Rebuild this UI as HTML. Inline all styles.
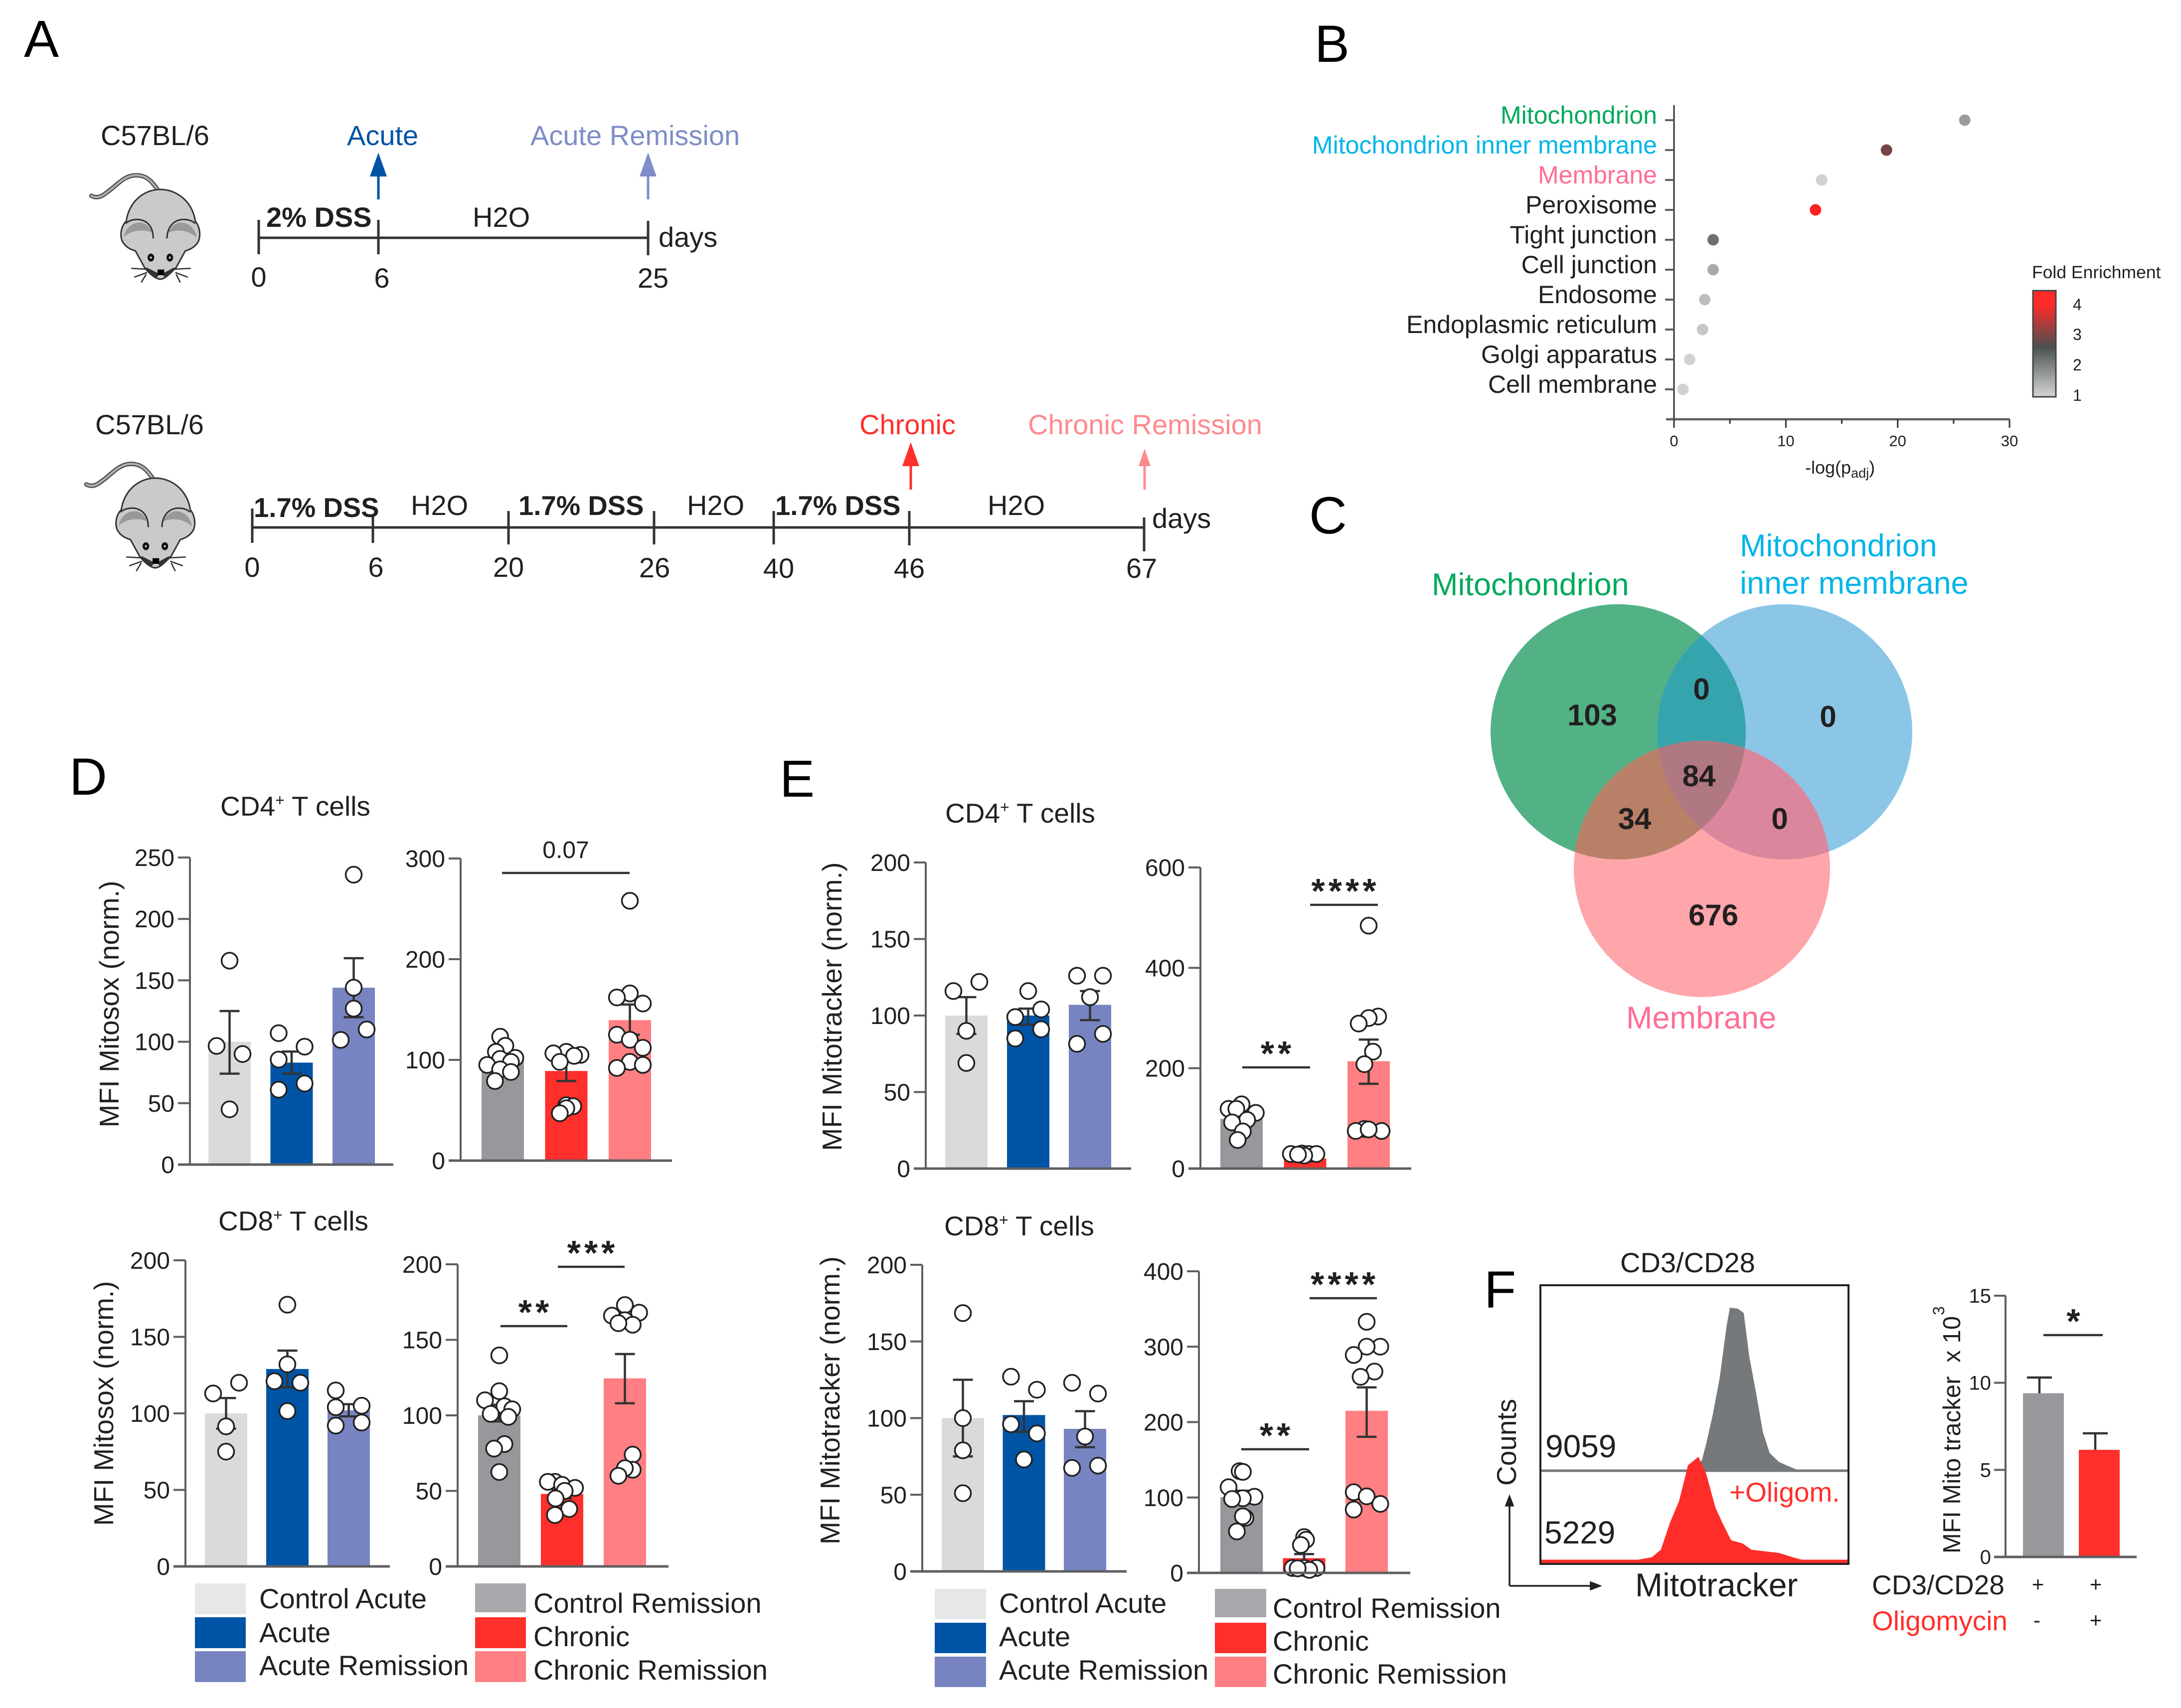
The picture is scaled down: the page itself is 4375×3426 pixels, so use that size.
<!DOCTYPE html>
<html lang="en">
<head>
<meta charset="utf-8">
<title>Mitochondrial phenotype figure panels A to F</title>
<style>
html,body{margin:0;padding:0;background:#fff;}
svg{display:block;}
text{font-family:"Liberation Sans",Arial,sans-serif;fill:#231f20;}
.lbl{font-size:56px;}
.bold{font-size:56px;font-weight:bold;}
.bold17{font-size:54.5px;font-weight:bold;}
.panel{font-size:105px;fill:#000;}
.leg{font-size:56px;}
</style>
</head>
<body>
<svg id="figure" xmlns="http://www.w3.org/2000/svg" width="4375" height="3426" viewBox="0 0 4375 3426">
<rect width="4375" height="3426" fill="#fff"/>
<defs>
  <linearGradient id="foldGrad" x1="0" y1="0" x2="0" y2="1">
    <stop offset="0.135" stop-color="#ff2a2a"/>
    <stop offset="0.53" stop-color="#4a5050"/>
    <stop offset="0.986" stop-color="#d0d1d3"/>
  </linearGradient>
  <clipPath id="clipGreen"><circle cx="3246" cy="1468" r="256"/></clipPath>
  <clipPath id="clipBlue"><circle cx="3580" cy="1468" r="256"/></clipPath>
  <clipPath id="clipPink"><circle cx="3414" cy="1743" r="257"/></clipPath>
  <g id="mouseArt">
    <path d="M495 175C460 130 430 90 360 95C290 100 250 160 190 200C160 225 130 235 100 218" fill="none" stroke="#333" stroke-width="26" stroke-linecap="round"/>
    <path d="M495 175C460 130 430 90 360 95C290 100 250 160 190 200C160 225 130 235 100 218" fill="none" stroke="#aaa" stroke-width="15" stroke-linecap="round"/>
    <path d="M515 180C620 180 710 260 725 370C750 400 760 450 745 490C730 520 700 540 665 550L610 650C570 690 540 720 515 720C490 720 450 690 420 650L365 550C330 540 300 520 285 490C270 450 280 400 310 370C325 260 410 180 515 180Z" fill="#cacaca" stroke="#333" stroke-width="9"/>
    <path d="M295 465C305 410 350 375 400 380C430 385 455 410 468 440C420 420 350 420 295 465Z" fill="#999"/>
    <path d="M735 470C725 410 680 375 630 380C600 385 575 410 562 440C610 420 680 420 735 470Z" fill="#999"/>
    <path d="M305 385C340 355 400 350 440 385C465 410 472 440 472 475" fill="none" stroke="#333" stroke-width="9"/>
    <path d="M555 475C555 440 565 410 590 385C630 350 690 355 725 385" fill="none" stroke="#333" stroke-width="9"/>
    <ellipse cx="458" cy="590" rx="20" ry="24" fill="#111"/>
    <ellipse cx="572" cy="590" rx="20" ry="24" fill="#111"/>
    <circle cx="458" cy="590" r="6" fill="#ddd"/>
    <circle cx="572" cy="590" r="6" fill="#ddd"/>
    <path d="M430 655L500 690L490 705ZM600 655L535 690L545 705Z" fill="#333" stroke="#333" stroke-width="12"/>
    <rect x="498" y="662" width="40" height="34" fill="#000"/>
    <path d="M430 660L340 655M435 680L358 708M430 690L400 740M600 660L698 655M605 680L680 708M610 690L635 740" fill="none" stroke="#333" stroke-width="8"/>
  </g>
</defs>

<!-- PANEL A -->
<g>
  <text class="panel" x="48" y="114">A</text>
  <text class="lbl" x="202" y="291">C57BL/6</text>
  <use href="#mouseArt" transform="translate(150,320) scale(0.3333)"/>
  <text class="lbl" x="696" y="291" style="fill:#0054a6">Acute</text>
  <text class="lbl" x="1064" y="291" style="fill:#7f8dc8">Acute Remission</text>
  <path d="M759 400V345" stroke="#0054a6" stroke-width="5" fill="none"/>
  <path d="M759 306L776 354H742Z" fill="#0054a6"/>
  <path d="M1300 400V345" stroke="#7f8dc8" stroke-width="5" fill="none"/>
  <path d="M1300 306L1317 354H1283Z" fill="#7f8dc8"/>
  <path d="M519 477H1300M519 441V510M759 441V510M1300 443V512" stroke="#333" stroke-width="5" fill="none"/>
  <text class="bold" x="534" y="455">2% DSS</text>
  <text class="lbl" x="948" y="455">H2O</text>
  <text class="lbl" x="1321" y="495">days</text>
  <text class="lbl" x="519" y="575" text-anchor="middle">0</text>
  <text class="lbl" x="766" y="577" text-anchor="middle">6</text>
  <text class="lbl" x="1310" y="577" text-anchor="middle">25</text>

  <text class="lbl" x="191" y="871">C57BL/6</text>
  <use href="#mouseArt" transform="translate(140,899) scale(0.3333)"/>
  <text class="lbl" x="1724" y="871" style="fill:#ff2f2b">Chronic</text>
  <text class="lbl" x="2062" y="871" style="fill:#ff8a8e">Chronic Remission</text>
  <path d="M1827 982V925" stroke="#ff2f2b" stroke-width="5" fill="none"/>
  <path d="M1827 887L1844 935H1810Z" fill="#ff2f2b"/>
  <path d="M2296 982V925" stroke="#ff8a8e" stroke-width="5" fill="none"/>
  <path d="M2296 900L2308 935H2284Z" fill="#ff8a8e"/>
  <path d="M506 1058H2295M506 1020V1089M748 1033V1089M1020 1025V1092M1312 1025V1092M1552 1025V1092M1824 1025V1094M2295 1038V1106" stroke="#333" stroke-width="5" fill="none"/>
  <text class="bold17" x="509" y="1037">1.7% DSS</text>
  <text class="lbl" x="824" y="1033">H2O</text>
  <text class="bold17" x="1040" y="1033">1.7% DSS</text>
  <text class="lbl" x="1378" y="1033">H2O</text>
  <text class="bold17" x="1555" y="1033">1.7% DSS</text>
  <text class="lbl" x="1981" y="1033">H2O</text>
  <text class="lbl" x="2311" y="1059">days</text>
  <text class="lbl" x="506" y="1157" text-anchor="middle">0</text>
  <text class="lbl" x="754" y="1157" text-anchor="middle">6</text>
  <text class="lbl" x="1020" y="1157" text-anchor="middle">20</text>
  <text class="lbl" x="1313" y="1158" text-anchor="middle">26</text>
  <text class="lbl" x="1562" y="1159" text-anchor="middle">40</text>
  <text class="lbl" x="1824" y="1159" text-anchor="middle">46</text>
  <text class="lbl" x="2290" y="1159" text-anchor="middle">67</text>
</g>

<text class="panel" x="2637" y="124">B</text>
<text class="panel" x="2626" y="1070">C</text>
<text class="panel" x="139" y="1594">D</text>
<text class="panel" x="1564" y="1598">E</text>
<text class="panel" x="2977" y="2623">F</text>

<!-- PANEL C -->
<g>
  <circle cx="3246" cy="1468" r="256" fill="#52b286"/>
  <circle cx="3580" cy="1468" r="256" fill="#8bc6e7"/>
  <circle cx="3580" cy="1468" r="256" fill="#36a4ac" clip-path="url(#clipGreen)"/>
  <circle cx="3414" cy="1743" r="257" fill="#ffa6ab"/>
  <circle cx="3414" cy="1743" r="257" fill="#b98068" clip-path="url(#clipGreen)"/>
  <circle cx="3414" cy="1743" r="257" fill="#da879d" clip-path="url(#clipBlue)"/>
  <g clip-path="url(#clipGreen)"><circle cx="3414" cy="1743" r="257" fill="#b07883" clip-path="url(#clipBlue)"/></g>
  <text x="3194" y="1455" text-anchor="middle" font-size="60" font-weight="bold">103</text>
  <text x="3413" y="1403" text-anchor="middle" font-size="60" font-weight="bold">0</text>
  <text x="3667" y="1458" text-anchor="middle" font-size="60" font-weight="bold">0</text>
  <text x="3408" y="1577" text-anchor="middle" font-size="60" font-weight="bold">84</text>
  <text x="3279" y="1663" text-anchor="middle" font-size="60" font-weight="bold">34</text>
  <text x="3570" y="1663" text-anchor="middle" font-size="60" font-weight="bold">0</text>
  <text x="3437" y="1856" text-anchor="middle" font-size="60" font-weight="bold">676</text>
  <text x="2872" y="1194" font-size="63" style="fill:#00a95c">Mitochondrion</text>
  <text x="3490" y="1116" font-size="63" style="fill:#00b5e8">Mitochondrion</text>
  <text x="3490" y="1191" font-size="63" style="fill:#00b5e8">inner membrane</text>
  <text x="3262" y="2063" font-size="63" style="fill:#ff6e96">Membrane</text>
</g>

<!-- Titles and legends -->
<text x="442" y="1636" font-size="55">CD4<tspan font-size="32" dy="-20">+</tspan><tspan dy="20"> T cells</tspan></text>
<text x="438" y="2468" font-size="55">CD8<tspan font-size="32" dy="-20">+</tspan><tspan dy="20"> T cells</tspan></text>
<text x="1896" y="1650" font-size="55">CD4<tspan font-size="32" dy="-20">+</tspan><tspan dy="20"> T cells</tspan></text>
<text x="1894" y="2478" font-size="55">CD8<tspan font-size="32" dy="-20">+</tspan><tspan dy="20"> T cells</tspan></text>
<text transform="translate(238,2014) rotate(-90)" text-anchor="middle" font-size="55" textLength="495">MFI Mitosox (norm.)</text>
<text transform="translate(227,2815) rotate(-90)" text-anchor="middle" font-size="55" textLength="491">MFI Mitosox (norm.)</text>
<text transform="translate(1688,2019) rotate(-90)" text-anchor="middle" font-size="55" textLength="579">MFI Mitotracker (norm.)</text>
<text transform="translate(1684,2809) rotate(-90)" text-anchor="middle" font-size="55" textLength="578">MFI Mitotracker (norm.)</text>

<g>
  <rect x="391" y="3176" width="102" height="62" fill="#e6e7e8"/>
  <rect x="391" y="3244" width="102" height="62" fill="#0054a6"/>
  <rect x="391" y="3312" width="102" height="62" fill="#7784c1"/>
  <rect x="953" y="3176" width="102" height="58" fill="#a7a9ac"/>
  <rect x="953" y="3244" width="102" height="62" fill="#ff2f2b"/>
  <rect x="953" y="3312" width="102" height="62" fill="#ff7f82"/>
  <text class="leg" x="520" y="3226">Control Acute</text>
  <text class="leg" x="520" y="3294">Acute</text>
  <text class="leg" x="520" y="3360">Acute Remission</text>
  <text class="leg" x="1070" y="3235">Control Remission</text>
  <text class="leg" x="1070" y="3302">Chronic</text>
  <text class="leg" x="1070" y="3369">Chronic Remission</text>
</g>
<g>
  <rect x="1875" y="3187" width="103" height="61" fill="#e6e7e8"/>
  <rect x="1875" y="3255" width="103" height="61" fill="#0054a6"/>
  <rect x="1875" y="3323" width="103" height="61" fill="#7784c1"/>
  <rect x="2437" y="3187" width="103" height="57" fill="#a7a9ac"/>
  <rect x="2437" y="3255" width="103" height="61" fill="#ff2f2b"/>
  <rect x="2437" y="3323" width="103" height="61" fill="#ff7f82"/>
  <text class="leg" x="2004" y="3235">Control Acute</text>
  <text class="leg" x="2004" y="3302">Acute</text>
  <text class="leg" x="2004" y="3369">Acute Remission</text>
  <text class="leg" x="2553" y="3245">Control Remission</text>
  <text class="leg" x="2553" y="3311">Chronic</text>
  <text class="leg" x="2553" y="3377">Chronic Remission</text>
</g>

<!-- Panel B static -->
<g>
  <text x="4076" y="558" font-size="35.5">Fold Enrichment</text>
  <rect x="4078" y="583" width="46" height="213" fill="url(#foldGrad)" stroke="#444" stroke-width="3"/>
  <text x="4158" y="622" font-size="32">4</text>
  <text x="4158" y="682" font-size="32">3</text>
  <text x="4158" y="743" font-size="32">2</text>
  <text x="4158" y="804" font-size="32">1</text>
</g>
<text x="3621" y="950" font-size="36">-log(p<tspan font-size="27" dy="8">adj</tspan><tspan dy="-8">)</tspan></text>

<!-- Panel F static -->
<g>
  <text x="3250" y="2552" font-size="56">CD3/CD28</text>
  <text x="3100" y="2923" font-size="64">9059</text>
  <text x="3098" y="3096" font-size="64">5229</text>
  <text x="3469" y="3012" font-size="55" style="fill:#ff2f2b">+Oligom.</text>
  <text transform="translate(3041,2893) rotate(-90)" text-anchor="middle" font-size="55">Counts</text>
  <path d="M3028 3181V3010M3028 3002l-7 18h14zM3028 3181H3200M3209 3181l-18 -7v14z" stroke="#222" stroke-width="3.5" fill="#222"/>
  <text x="3280" y="3202" font-size="66">Mitotracker</text>
</g>
<g>
  <text x="3755" y="3198" font-size="55">CD3/CD28</text>
  <text x="3755" y="3270" font-size="55" style="fill:#ff2f2b">Oligomycin</text>
  <text x="4088" y="3192" font-size="42" text-anchor="middle">+</text>
  <text x="4204" y="3192" font-size="42" text-anchor="middle">+</text>
  <text x="4086" y="3264" font-size="42" text-anchor="middle">-</text>
  <text x="4204" y="3264" font-size="42" text-anchor="middle">+</text>
</g>
<text transform="translate(3932,2878) rotate(-90)" text-anchor="middle" font-size="49" textLength="476" xml:space="preserve">MFI Mito tracker  x 10</text>
<text transform="translate(3900,2638) rotate(-90)" font-size="32">3</text>

<g id="charts"></g>
</svg>

<script>
// ---- Panel B dot plot ----
const goTerms = ["Mitochondrion","Mitochondrion inner membrane","Membrane","Peroxisome","Tight junction","Cell junction","Endosome","Endoplasmic reticulum","Golgi apparatus","Cell membrane"];
const goNegLogP = [26.0,19.0,13.2,12.65,3.5,3.5,2.75,2.55,1.4,0.8];
const goFold = [1.64,2.92,1.0,4.0,2.2,1.48,1.24,1.14,1.0,0.95];
const goLabelColors = ["#00a95c","#00b5e8","#ff6e96","#231f20","#231f20","#231f20","#231f20","#231f20","#231f20","#231f20"];
const goXTicks = [0,10,20,30];
const goXMinorTicks = [5,15,25];

// ---- Panel D ----
const dAcuteCategories = ["Control Acute","Acute","Acute Remission"];
const dChronicCategories = ["Control Remission","Chronic","Chronic Remission"];
const d1Ticks = [0,50,100,150,200,250];
const d1Means = [100,83,144];
const d1ErrHigh = [125,92,168];
const d1ErrLow = [74,74,120];
const d1Points = [[166,96.6,90,45],[107,96,85.5,66,61],[236,144,127,110,101.5]];
const d1Jitter = [[0,-1,1,0],[-1,1,-1,1,-1],[0,0,0,1,-1]];

const d2Ticks = [0,100,200,300];
const d2Means = [100,89,139.5];
const d2ErrHigh = [105,104,155];
const d2ErrLow = [94,79,125];
const d2Points = [[123,114,108,102,101,98,95,90.6,88,79],[108,106.5,105,104,98,55,54,52,47],[258,166,162,156,125,120,112,98,92,95]];
const d2Jitter = [[-0.2,0.2,-0.53,0.97,-0.2,0.63,-1.2,-0.2,0.63,-0.6],[0,-1,1.1,0.6,-0.5,0,0.53,0,-0.5],[0,0,-1,1,-1,0,1,0,-1,1]];

const d3Ticks = [0,50,100,150,200];
const d3Means = [100,129,102];
const d3ErrHigh = [110,141,106];
const d3ErrLow = [90,117,98];
const d3Points = [[120,113,91.5,75],[171,132,121,120,101.5],[115,105,104,94,92]];
const d3Jitter = [[1,-1,0,0],[0,0,-1,1,0],[-1,1,-1,1,-1]];

const d4Ticks = [0,50,100,150,200];
const d4Means = [100,48,124.5];
const d4ErrHigh = [107,51,140.6];
const d4ErrLow = [96,45,108];
const d4Points = [[139.7,116,110,106,104,101,99,81,78,62.5],[56,56,54,52,50,45,38,34],[173,168,166,163,160,161,74,64,65,60]];
const d4Jitter = [[0,0,-1.1,0.4,1,-0.66,0.7,0.4,-0.4,0],[-0.55,-1.1,0,1,0.2,-0.5,0.55,-0.55],[0,1.1,-1,0,0.6,-0.5,0.6,0.6,0,-0.5]];

// ---- Panel E ----
const e1Ticks = [0,50,100,150,200];
const e1Means = [100,100,107];
const e1ErrHigh = [112,104.5,116];
const e1ErrLow = [88,94,97];
const e1Points = [[122,116,90,69],[116,104,99,91,85],[126,126,112,88,81.5]];
const e1Jitter = [[1,-1,0,0],[0,1,-1,1,-1],[-1,1,0,1,-1]];

const e2Ticks = [0,200,400,600];
const e2Means = [99,20,214];
const e2ErrHigh = [107,25,257];
const e2ErrLow = [91,15,169];
const e2Points = [[128,119,119,111,97,92,74,57],[29,30,29,29,26,28],[484,303,300,289,233,208,79,75,75,78]];
const e2Jitter = [[0,-1,-0.4,1.1,0.43,-0.73,0.1,-0.3],[-1.1,-0.25,0.27,0.87,-0.07,-0.55],[0,0.73,0,-0.77,0.33,-0.33,-0.33,-1,1,0]];

const e3Ticks = [0,50,100,150,200];
const e3Means = [100,102,93];
const e3ErrHigh = [125,111,104.5];
const e3ErrLow = [75,91,81];
const e3Points = [[168.5,100,79,51],[127,118.5,96,90,73],[123,116,88,69,67.5]];
const e3Jitter = [[0,0,0,0],[-1,1,-1,1,0],[-1,1,0,1,-1]];

const e4Ticks = [0,100,200,300,400];
const e4Means = [100.6,19.5,215];
const e4ErrHigh = [109,25,246];
const e4ErrLow = [92,14,180.5];
const e4Points = [[135,134,113.6,101,99,98,73,75,55],[47.5,44,37,6.5,6.5,6.5,4,6],[333,300,300,289,267,260,107,101.5,91.5,84]];
const e4Jitter = [[-0.15,0.1,-1,1,0.1,-0.73,0.3,0.1,-0.36],[0,0.15,-0.25,-0.9,0,0.95,0.4,-0.5],[0,1.05,0,-1,0.6,-0.47,-1,0,1.05,-1]];

// ---- Panel F ----
const fCategories = ["CD3/CD28","CD3/CD28 + Oligomycin"];
const fTicks = [0,5,10,15];
const fMeans = [9.4,6.15];
const fErrHigh = [10.3,7.1];
const histGrayChannels = [46.5,49.4,52.4,53.8,56,58.2,60.4,61.5,64.1,66,67.8,70,72.2,74.4,77.4,80.3,84];
const histGrayCounts = [0,1.3,6.3,16.4,34.9,57,88.4,100,99.4,96.7,70,47.8,23.8,10.9,5.4,3,0];
const histRedChannels = [28.8,36.2,39.1,42.1,45,47.9,51.3,53.8,56.8,59,61.9,65.6,68.5,77.4,81.8,86.9];
const histRedCounts = [1,5,12,38,58,92,100,84,52,38,21,18,12,9,5,1];

const NS = "http://www.w3.org/2000/svg";
const layer = document.getElementById("charts");
const LINE_DARK = "#333";
const AXIS_GRAY = "#5f5f61";
const acuteColors = ["#d9dadb","#0054a6","#7784c1"];
const chronicColors = ["#96989c","#ff2f2c","#ff7f82"];
const JITTER_UNIT = 26;

function add(tag, attrs, parent, text) {
  const node = document.createElementNS(NS, tag);
  for (const key in attrs) node.setAttribute(key, attrs[key]);
  if (text !== undefined) node.textContent = text;
  (parent || layer).appendChild(node);
  return node;
}

function drawBarChart(name, g, categories, colors, ticks, means, errHigh, errLow, points, jitter, sigs) {
  const root = add("g", {});
  
  
  const maxTick = ticks[ticks.length - 1];
  const yScale = function (v) { return g.y0 - (v / maxTick) * (g.y0 - g.yTop); };
  const barCenter = function (i) { return g.barStart + i * g.barStep + g.barWidth / 2; };

  means.forEach(function (m, i) {
    const bar = add("rect", {x: g.barStart + i * g.barStep, y: yScale(m), width: g.barWidth, height: g.y0 - yScale(m), fill: colors[i]}, root);
    
    
  });

  means.forEach(function (m, i) {
    const cx = barCenter(i);
    const stem = add("line", {x1: cx, x2: cx, y1: yScale(errLow[i]), y2: yScale(errHigh[i]), stroke: LINE_DARK, "stroke-width": 4.5}, root);
    
    
    const capHigh = add("line", {x1: cx - 20, x2: cx + 20, y1: yScale(errHigh[i]), y2: yScale(errHigh[i]), stroke: LINE_DARK, "stroke-width": 4.5}, root);
    
    
    const capLow = add("line", {x1: cx - 20, x2: cx + 20, y1: yScale(errLow[i]), y2: yScale(errLow[i]), stroke: LINE_DARK, "stroke-width": 4.5}, root);
    
    
  });

  points.forEach(function (series, i) {
    series.forEach(function (v, j) {
      const dot = add("circle", {cx: barCenter(i) + jitter[i][j] * JITTER_UNIT, cy: yScale(v), r: 16, fill: "#fff", stroke: "#222", "stroke-width": 3.5}, root);
      
      
    });
  });

  const yAxis = add("line", {x1: g.axisX, x2: g.axisX, y1: g.yTop, y2: g.y0, stroke: AXIS_GRAY, "stroke-width": 4}, root);
  
  
  const xAxis = add("line", {x1: g.axisX - 24, x2: g.xEnd, y1: g.y0, y2: g.y0, stroke: AXIS_GRAY, "stroke-width": 5}, root);
  
  

  ticks.forEach(function (t) {
    const mark = add("line", {x1: g.axisX - 24, x2: g.axisX, y1: yScale(t), y2: yScale(t), stroke: AXIS_GRAY, "stroke-width": 4}, root);
    
    
    const label = add("text", {x: g.axisX - 31, y: yScale(t) + 17, "text-anchor": "end", "font-size": 48}, root, String(t));
    
    
  });

  (sigs || []).forEach(function (s) {
    const line = add("line", {x1: s[0], x2: s[1], y1: s[2], y2: s[2], stroke: LINE_DARK, "stroke-width": 4.5}, root);
    
    
    const isStars = s[3].indexOf("*") === 0;
    const mark = add("text", {
      x: (s[0] + s[1]) / 2 + (isStars ? 3 : 0),
      y: isStars ? s[2] - 4 : s[2] - 30,
      "text-anchor": "middle",
      "font-size": isStars ? 70 : 48,
      "font-weight": isStars ? "bold" : "normal",
      "letter-spacing": isStars ? 7 : 0
    }, root, s[3]);
    
    
  });
}

drawBarChart("chart-mitosox-cd4-acute", {axisX:381,y0:2336,yTop:1720,xEnd:789,barStart:418,barStep:124.5,barWidth:85},
  dAcuteCategories, acuteColors, d1Ticks, d1Means, d1ErrHigh, d1ErrLow, d1Points, d1Jitter, []);
drawBarChart("chart-mitosox-cd4-chronic", {axisX:924,y0:2328,yTop:1722,xEnd:1348,barStart:966,barStep:127.5,barWidth:85},
  dChronicCategories, chronicColors, d2Ticks, d2Means, d2ErrHigh, d2ErrLow, d2Points, d2Jitter, [[1007,1263,1751,"0.07"]]);
drawBarChart("chart-mitosox-cd8-acute", {axisX:372,y0:3142,yTop:2528,xEnd:782,barStart:411,barStep:123,barWidth:85},
  dAcuteCategories, acuteColors, d3Ticks, d3Means, d3ErrHigh, d3ErrLow, d3Points, d3Jitter, []);
drawBarChart("chart-mitosox-cd8-chronic", {axisX:918,y0:3142,yTop:2536,xEnd:1341,barStart:959,barStep:126,barWidth:85},
  dChronicCategories, chronicColors, d4Ticks, d4Means, d4ErrHigh, d4ErrLow, d4Points, d4Jitter, [[1004,1138,2660,"**"],[1119,1253,2541,"***"]]);
drawBarChart("chart-mitotracker-cd4-acute", {axisX:1857,y0:2344,yTop:1730,xEnd:2269,barStart:1896,barStep:124,barWidth:85},
  dAcuteCategories, acuteColors, e1Ticks, e1Means, e1ErrHigh, e1ErrLow, e1Points, e1Jitter, []);
drawBarChart("chart-mitotracker-cd4-chronic", {axisX:2408,y0:2344,yTop:1740,xEnd:2831,barStart:2448,barStep:127.5,barWidth:85},
  dChronicCategories, chronicColors, e2Ticks, e2Means, e2ErrHigh, e2ErrLow, e2Points, e2Jitter, [[2492,2628,2141,"**"],[2628,2764,1815,"****"]]);
drawBarChart("chart-mitotracker-cd8-acute", {axisX:1850,y0:3152,yTop:2537,xEnd:2260,barStart:1889,barStep:122.5,barWidth:85},
  dAcuteCategories, acuteColors, e3Ticks, e3Means, e3ErrHigh, e3ErrLow, e3Points, e3Jitter, []);
drawBarChart("chart-mitotracker-cd8-chronic", {axisX:2405,y0:3155,yTop:2550,xEnd:2829,barStart:2448,barStep:125.5,barWidth:85},
  dChronicCategories, chronicColors, e4Ticks, e4Means, e4ErrHigh, e4ErrLow, e4Points, e4Jitter, [[2490,2626,2907,"**"],[2627,2762,2604,"****"]]);

// Panel B dot plot drawing
(function drawDotPlot() {
  const root = add("g", {});
  
  
  const axisX = 3358, axisRight = 4031, firstRowY = 241, rowGap = 60, baseY = 841;
  const xMax = goXTicks[goXTicks.length - 1];
  const xScale = function (v) { return axisX + (v / xMax) * (axisRight - axisX); };
  const yRow = function (i) { return firstRowY + i * rowGap; };
  const stops = [[1,[208,209,211]],[2.6,[74,80,80]],[4,[255,32,32]]];
  const foldColor = function (f) {
    const v = Math.max(1, Math.min(4, f));
    const k = v <= 2.6 ? 0 : 1;
    const t = (v - stops[k][0]) / (stops[k + 1][0] - stops[k][0]);
    const c = stops[k][1].map(function (a, idx) { return Math.round(a + t * (stops[k + 1][1][idx] - a)); });
    return "rgb(" + c.join(",") + ")";
  };

  const yAxis = add("line", {x1: axisX, x2: axisX, y1: 211, y2: 855, stroke: LINE_DARK, "stroke-width": 3}, root);
  
  
  const xAxis = add("line", {x1: axisX - 16, x2: axisRight, y1: baseY, y2: baseY, stroke: AXIS_GRAY, "stroke-width": 4.5}, root);
  
  

  goTerms.forEach(function (term, i) {
    const tick = add("line", {x1: axisX - 18, x2: axisX, y1: yRow(i), y2: yRow(i), stroke: AXIS_GRAY, "stroke-width": 4}, root);
    
    
    const label = add("text", {x: 3324, y: yRow(i) + 7, "text-anchor": "end", "font-size": 50, style: "fill:" + goLabelColors[i]}, root, term);
    
    
    const dot = add("circle", {cx: xScale(goNegLogP[i]), cy: yRow(i), r: 11.5, fill: foldColor(goFold[i])}, root);
    
    
  });

  goXTicks.forEach(function (t) {
    const tick = add("line", {x1: xScale(t), x2: xScale(t), y1: baseY, y2: baseY + 17, stroke: LINE_DARK, "stroke-width": 3}, root);
    
    
    const label = add("text", {x: xScale(t), y: 895, "text-anchor": "middle", "font-size": 31}, root, String(t));
    
    
  });
  goXMinorTicks.forEach(function (t) {
    const tick = add("line", {x1: xScale(t), x2: xScale(t), y1: baseY, y2: baseY + 9, stroke: LINE_DARK, "stroke-width": 3}, root);
    
    
  });
})();

// Panel F histogram and bar chart
(function drawHistogram() {
  const root = add("g", {});
  
  
  const left = 3090, right = 3708, top = 2578, bottom = 3137;
  const xScale = function (c) { return left + (c / 100) * (right - left); };
  const grayBase = 2950, grayHeight = 327, redBase = 3134, redHeight = 212;
  const areaPath = function (channels, counts, base, height) {
    let d = "M" + xScale(channels[0]) + " " + base;
    channels.forEach(function (c, i) { d += "L" + xScale(c) + " " + (base - (counts[i] / 100) * height); });
    return d + "L" + xScale(channels[channels.length - 1]) + " " + base + "Z";
  };
  const gray = add("path", {d: areaPath(histGrayChannels, histGrayCounts, grayBase, grayHeight), fill: "#75797b"}, root);
  
  
  const midLine = add("line", {x1: left, x2: right, y1: grayBase, y2: grayBase, stroke: "#75797b", "stroke-width": 5}, root);
  
  
  const red = add("path", {d: areaPath(histRedChannels, histRedCounts, redBase, redHeight), fill: "#ff2d2a"}, root);
  
  
  const redLine = add("line", {x1: left, x2: right, y1: redBase - 2, y2: redBase - 2, stroke: "#ff2d2a", "stroke-width": 7}, root);
  
  
  const frame = add("rect", {x: left, y: top, width: right - left, height: bottom - top, fill: "none", stroke: "#222", "stroke-width": 4}, root);
  
  
})();

(function drawOligoBars() {
  const root = add("g", {});
  
  
  const axisX = 4023, y0 = 3123, yTop = 2599, xEnd = 4286;
  const barStart = 4058, barStep = 112, barWidth = 82;
  const maxTick = fTicks[fTicks.length - 1];
  const yScale = function (v) { return y0 - (v / maxTick) * (y0 - yTop); };
  const colors = ["#96989c","#ff2f2c"];
  fMeans.forEach(function (m, i) {
    const bar = add("rect", {x: barStart + i * barStep, y: yScale(m), width: barWidth, height: y0 - yScale(m), fill: colors[i]}, root);
    
    
    const cx = barStart + i * barStep + barWidth / 2 - 8;
    const err = add("path", {d: "M" + cx + " " + yScale(m) + "V" + yScale(fErrHigh[i]) + "M" + (cx - 25) + " " + yScale(fErrHigh[i]) + "H" + (cx + 25), stroke: LINE_DARK, "stroke-width": 4.5, fill: "none"}, root);
    
    
  });
  const yAxis = add("line", {x1: axisX, x2: axisX, y1: yTop, y2: y0, stroke: AXIS_GRAY, "stroke-width": 4}, root);
  
  
  const xAxis = add("line", {x1: axisX - 23, x2: xEnd, y1: y0, y2: y0, stroke: AXIS_GRAY, "stroke-width": 5}, root);
  
  
  fTicks.forEach(function (t) {
    const mark = add("line", {x1: axisX - 23, x2: axisX, y1: yScale(t), y2: yScale(t), stroke: AXIS_GRAY, "stroke-width": 4}, root);
    
    
    const label = add("text", {x: axisX - 29, y: yScale(t) + 14, "text-anchor": "end", "font-size": 40}, root, String(t));
    
    
  });
  const sigLine = add("line", {x1: 4099, x2: 4218, y1: 2678, y2: 2678, stroke: LINE_DARK, "stroke-width": 4.5}, root);
  
  
  const sigStar = add("text", {x: 4159, y: 2674, "text-anchor": "middle", "font-size": 70, "font-weight": "bold"}, root, "*");
  
  
})();
</script>
</body>
</html>
